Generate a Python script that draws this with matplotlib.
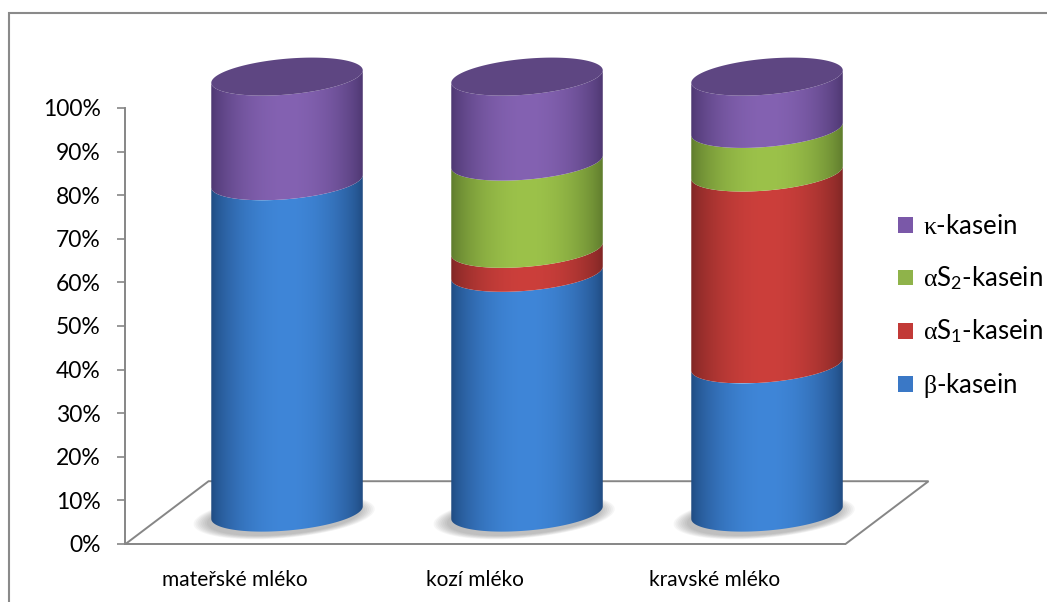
import numpy as np
import matplotlib.pyplot as plt
from matplotlib.patches import Polygon, Patch, Rectangle
from matplotlib.colors import to_rgb

plt.rcParams['font.family'] = ['Lato', 'DejaVu Sans']
plt.rcParams['mathtext.fontset'] = 'custom'
plt.rcParams['mathtext.rm'] = 'Lato'
plt.rcParams['mathtext.it'] = 'Liberation Serif'

categories = ['mateřské mléko', 'kozí mléko', 'kravské mléko']
series = [r'$\beta$-kasein', r'$\alpha\mathrm{S}_1$-kasein',
          r'$\alpha\mathrm{S}_2$-kasein', r'$\kappa$-kasein']
beta = [76, 55, 34]
alpha_s1 = [0, 5.5, 44]
alpha_s2 = [0, 20, 10]
kappa = [24, 19.5, 12]
values = [beta, alpha_s1, alpha_s2, kappa]

# side colours: (dark edge, light middle), plus flat colour of the top cap
shades = [('#1f4a80', '#3f86d8'),
          ('#7e2624', '#cc3f3b'),
          ('#5d7a2c', '#9cc24a'),
          ('#4c3670', '#8462b2')]
caps = ['#2f5f99', '#9a3330', '#7c9a3c', '#5e4682']
legend_cols = ['#3a78c6', '#c23a37', '#8fb34a', '#7a58a8']
grey = '#868686'

# oblique projection of the floor depth, cylinder radius and ellipse tilt
depth = np.array([0.346, 14.4])
mid = depth / 2
rx = 0.298
vx, vy = 0.104, 4.36
th_s = np.arctan2(vx, rx)
front = np.linspace(th_s + np.pi, th_s + 2 * np.pi, 80)
full = np.linspace(0, 2 * np.pi, 160)
half_w = np.hypot(rx, vx)

fig = plt.figure(figsize=(10.47, 6.02), dpi=100)
ax = fig.add_axes([0, 0, 1, 1])


def ring(cx, level, th, scale=1.0, dx=0.0, dy=0.0):
    x = cx + mid[0] + scale * (rx * np.cos(th) + vx * np.sin(th)) + dx
    y = mid[1] + level + scale * vy * np.sin(th) + dy
    return np.column_stack([x, y])


def gradient(dark, light):
    t = np.linspace(0, 1, 200)
    w = np.sin(np.pi * t) ** 0.7
    d, l = np.array(to_rgb(dark)), np.array(to_rgb(light))
    return (d[None, :] * (1 - w[:, None]) + l[None, :] * w[:, None])[None, :, :]


# floor outline
floor = np.array([[-0.5, 0], [2.5, 0], [2.5, 0] + depth, [-0.5, 0] + depth])
ax.add_patch(Polygon(floor, closed=True, fill=False, edgecolor=grey,
                     lw=1.4, zorder=1))

for i, cat in enumerate(categories):
    # soft shadow on the floor
    for k in range(8):
        ax.add_patch(Polygon(ring(i, 0, full, 1.02 + 0.025 * k, -0.012, -0.9),
                             closed=True, facecolor='#505050', edgecolor='none',
                             alpha=0.05, zorder=2))
    bottom = 0.0
    top_series = 0
    for s, vals in enumerate(values):
        h = vals[i]
        if h <= 0:
            continue
        poly = Polygon(np.vstack([ring(i, bottom, front),
                                  ring(i, bottom + h, front[::-1])]),
                       closed=True, facecolor='none', edgecolor='none')
        ax.add_patch(poly)
        c = i + mid[0]
        im = ax.imshow(gradient(*shades[s]), aspect='auto', interpolation='bilinear',
                       extent=[c - half_w, c + half_w, mid[1] + bottom - vy,
                               mid[1] + bottom + h + vy], zorder=3)
        im.set_clip_path(poly)
        bottom += h
        top_series = s
    ax.add_patch(Polygon(ring(i, bottom, full), closed=True,
                         facecolor=caps[top_series], edgecolor='none', zorder=4))
    ax.text(i - 0.044, -8.3, cat, ha='center', va='center', fontsize=15)

ax.set_xlim(-245.5 / 240, (1047 - 245.5) / 240)
ax.set_ylim(-58 / 4.36, (602 - 58) / 4.36)

for side in ['top', 'right', 'bottom']:
    ax.spines[side].set_visible(False)
ax.spines['left'].set_position(('data', -0.5))
ax.spines['left'].set_bounds(0, 100)
ax.spines['left'].set_color(grey)
ax.spines['left'].set_linewidth(1.4)
ax.set_xticks([])
ax.set_yticks(np.arange(0, 101, 10))
ax.set_yticklabels([f'{t}%' for t in range(0, 101, 10)])
ax.tick_params(axis='y', direction='out', length=6, width=1.2, color=grey,
               pad=12, labelsize=16.5)
ax.patch.set_alpha(0)

handles = [Patch(facecolor=legend_cols[s], edgecolor='none') for s in range(4)]
fig.legend(handles[::-1], series[::-1], loc='center left', frameon=False,
           bbox_to_anchor=(0.836, 0.49), fontsize=18.5, handlelength=0.55,
           handleheight=0.55, handletextpad=0.4, labelspacing=1.0)

fig.add_artist(Rectangle((8.5 / 1047, -0.05), 1.1, 0.05 + 1 - 12.5 / 602,
                         transform=fig.transFigure, fill=False,
                         edgecolor='#8a8a8a', lw=1.5))

fig.savefig('out.png', dpi=100)
